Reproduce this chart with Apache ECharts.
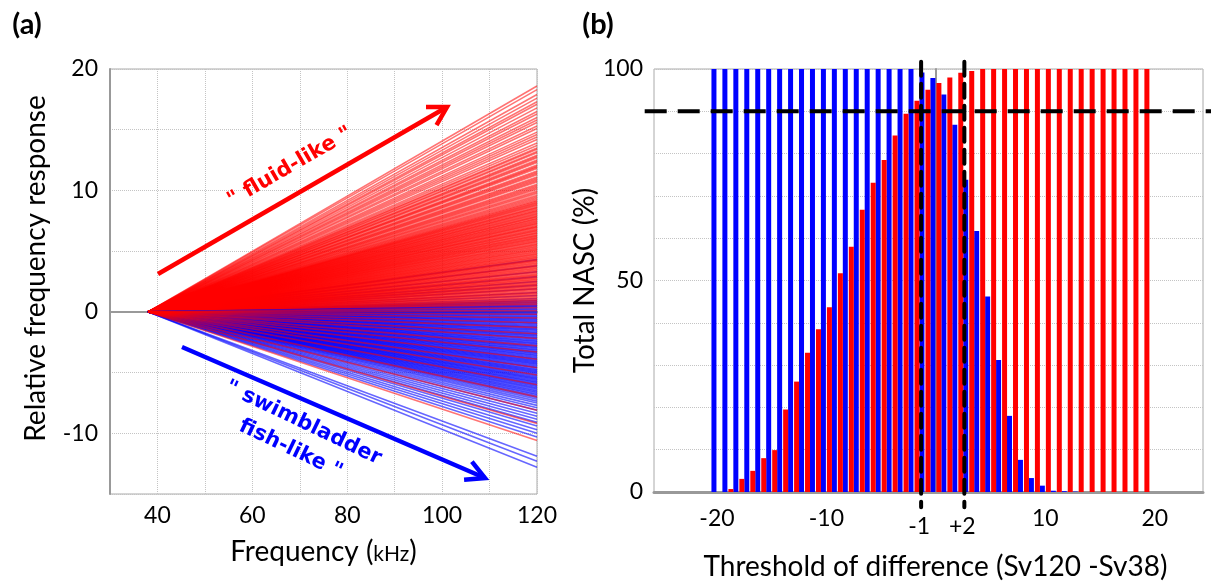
<!DOCTYPE html>
<html>
<head>
<meta charset="utf-8">
<script src="https://cdn.jsdelivr.net/npm/echarts@6/dist/echarts.min.js"></script>
<style>
html,body{margin:0;padding:0;background:#fff;}
#c{width:1211px;height:581px;}
</style>
</head>
<body>
<div id="c"></div>
<script>
// ---------- Panel (a): relative frequency response lines ----------
const FREQ_START = 38;   // kHz, common origin of every line
const FREQ_END = 120;    // kHz
// value at 120 kHz of each "fluid-like" (red) line
const fluidEnd = [18.6, 18.3, 17.9, 17.6, 17.3, 17.1, 16.8, 16.5, 16.3, 16.0, 15.8, 15.6, 15.3, 15.1, 14.8, 14.6,
  14.4, 14.2, 13.9, 13.7, 13.5, 13.4, 13.2, 13.1, 12.9, 12.8, 12.7, 12.5, 12.4, 12.3, 12.1, 12.0, 11.9, 11.8,
  11.6, 11.5, 11.4, 11.3, 11.1, 11.0, 10.9, 10.8, 10.7, 10.5, 10.4, 10.3, 10.2, 10.1, 9.95, 9.85, 9.75, 9.6,
  9.5, 9.4, 9.3, 9.18, 9.1, 9.01, 8.95, 8.86, 8.8, 8.71, 8.62, 8.57, 8.49, 8.4, 8.33, 8.27, 8.18, 8.1, 8.04,
  7.96, 7.88, 7.83, 7.74, 7.66, 7.6, 7.53, 7.45, 7.38, 7.3, 7.25, 7.17, 7.08, 7.02, 6.96, 6.88, 6.81, 6.73,
  6.68, 6.6, 6.52, 6.47, 6.39, 6.31, 6.26, 6.18, 6.1, 6.05, 5.97, 5.9, 5.82, 5.77, 5.69, 5.61, 5.55, 5.48,
  5.4, 5.34, 5.26, 5.19, 5.12, 5.05, 4.97, 4.91, 4.83, 4.76, 4.7, 4.62, 4.55, 4.47, 4.41, 4.33, 4.26, 4.2,
  4.12, 4.04, 3.98, 3.9, 3.83, 3.76, 3.69, 3.61, 3.55, 3.47, 3.4, 3.32, 3.26, 3.18, 3.1, 3.03, 2.96, 2.88,
  2.81, 2.74, 2.66, 2.59, 2.52, 2.44, 2.37, 2.3, 2.22, 2.14, 2.07, 1.99, 1.91, 1.84, 1.76, 1.68, 1.6, 1.52,
  1.44, 1.35, 1.27, 1.18, 1.09, 1.0, 0.91, 0.81, 0.7, 0.6, 0.48, 0.35, 0.1, -0.2, -0.5, -0.9, -1.3, -1.8,
  -2.2, -2.8, -3.3, -3.9, -4.6, -5.2, -6.0, -7.0, -8.1, -9.2, -10.6];
// value at 120 kHz of each "swimbladder fish-like" (blue) line
const swimEnd = [4.3, 3.8, 3.3, 2.9, 2.5, 2.2, 1.9, 1.6, 1.35, 1.1, 0.96, 0.88, 0.79, 0.72, 0.63, 0.55, 0.47,
  0.4, 0.31, 0.23, 0.16, 0.07, -0.01, -0.09, -0.17, -0.24, -0.33, -0.4, -0.48, -0.57, -0.64, -0.72, -0.8,
  -0.89, -0.96, -1.04, -1.12, -1.2, -1.27, -1.36, -1.44, -1.51, -1.6, -1.68, -1.75, -1.84, -1.92, -1.99,
  -2.08, -2.15, -2.23, -2.32, -2.4, -2.47, -2.56, -2.63, -2.71, -2.8, -2.88, -2.95, -3.04, -3.12, -3.19,
  -3.28, -3.36, -3.43, -3.52, -3.6, -3.67, -3.76, -3.84, -3.91, -4.0, -4.08, -4.16, -4.24, -4.32, -4.4,
  -4.48, -4.56, -4.63, -4.72, -4.8, -4.88, -4.96, -5.04, -5.12, -5.2, -5.28, -5.36, -5.44, -5.52, -5.6,
  -5.69, -5.77, -5.85, -5.94, -6.02, -6.1, -6.2, -6.29, -6.38, -6.47, -6.57, -6.66, -6.76, -6.86, -6.97,
  -7.08, -7.2, -7.35, -7.5, -7.7, -7.9, -8.1, -8.35, -8.6, -8.85, -9.1, -9.4, -9.7, -10.0, -10.3, -11.9,
  -12.3, -12.8];
const freqTickLabels = [40, 60, 80, 100, 120];
const respTickLabels = [-10, 0, 10, 20];

// ---------- Panel (b): total NASC vs threshold ----------
const thresholds = [-20, -19, -18, -17, -16, -15, -14, -13, -12, -11, -10, -9, -8, -7, -6, -5, -4, -3, -2, -1,
  0, 1, 2, 3, 4, 5, 6, 7, 8, 9, 10, 11, 12, 13, 14, 15, 16, 17, 18, 19];
const swimNasc = [100, 100, 100, 100, 100, 100, 100, 100, 100, 100, 100, 100, 100, 100, 100, 100, 100, 100, 100,
  99.2, 97.9, 94.0, 86.8, 73.8, 61.7, 46.2, 31.2, 18.0, 7.6, 3.3, 1.5, 0.3, 0.2, 0.1, 0, 0, 0, 0, 0, 0];
const fluidNasc = [0, 0.7, 3.1, 5.0, 8.0, 9.9, 19.5, 26.1, 32.9, 38.5, 43.7, 51.7, 58.0, 66.7, 73.1, 78.5, 84.3,
  89.4, 92.5, 95.1, 96.7, 98.0, 99.1, 99.5, 100, 100, 100, 100, 100, 100, 100, 100, 100, 100, 100, 100, 100,
  100, 100, 100];
const nascTickLabels = [0, 50, 100];
const diffTickLabels = [-20, -10, 10, 20];
const nascCutoff = 90;
const markerLabels = ['-1', '+2'];
const markerAt = [-1.35, 2.6];

const FONT = 'Lato, "Open Sans", sans-serif';
const ANNOT_FONT = '"DejaVu Sans", Verdana, sans-serif';
const RED = '#ff0000', BLUE = '#0000ff';
const RED_LINE = 'rgba(255,0,0,0.55)', BLUE_LINE = 'rgba(0,0,255,0.6)';

const chart = echarts.init(document.getElementById('c'), null, {renderer: 'canvas'});

function lineSeries(v, color) {
  return {
    type: 'line', xAxisIndex: 0, yAxisIndex: 0,
    data: [[FREQ_START, 0], [FREQ_END, v]],
    symbol: 'none', silent: true, animation: false,
    lineStyle: {color: color, width: 1.6}, z: 2
  };
}
const series = [];
// drawing order mixes the two groups where they overlap
swimEnd.filter(v => v > 0.5).forEach(v => series.push(lineSeries(v, BLUE_LINE)));
fluidEnd.filter(v => v >= 0.4).forEach(v => series.push(lineSeries(v, RED_LINE)));
swimEnd.filter(v => v <= 0.5).forEach(v => series.push(lineSeries(v, BLUE_LINE)));
fluidEnd.filter(v => v < 0.4).forEach(v => series.push(lineSeries(v, RED_LINE)));

series.push({
  type: 'bar', xAxisIndex: 1, yAxisIndex: 1, name: 'swimbladder',
  data: thresholds.map((t, i) => [t, swimNasc[i]]),
  barWidth: 5, barGap: '20%', itemStyle: {color: BLUE}, animation: false, z: 2
});
series.push({
  type: 'bar', xAxisIndex: 1, yAxisIndex: 1, name: 'fluid',
  data: thresholds.map((t, i) => [t, fluidNasc[i]]),
  barWidth: 5, barGap: '20%', itemStyle: {color: RED}, animation: false, z: 2
});

const gridLine = {show: true, lineStyle: {color: '#c4c4c4', type: 'dotted', width: 1}};
const axisLine = {show: true, lineStyle: {color: '#999', width: 2}};
const tickFont = {color: '#000', fontSize: 23, fontFamily: FONT};

chart.setOption({
  backgroundColor: '#fff',
  animation: false,
  grid: [
    {left: 110, top: 69, width: 427, height: 425, show: true, borderColor: '#aaa', borderWidth: 1,
      containLabel: false, outerBoundsMode: 'none'},
    {left: 654, top: 69, width: 549, height: 423, show: true, borderColor: '#aaa', borderWidth: 1,
      containLabel: false, outerBoundsMode: 'none'}
  ],
  xAxis: [
    {
      type: 'value', gridIndex: 0, min: 30, max: 120, interval: 10,
      axisLine: axisLine, axisTick: {show: false}, splitLine: gridLine,
      axisLabel: Object.assign({margin: 10, formatter: v => freqTickLabels.indexOf(v) >= 0 ? String(v) : ''}, tickFont),
      name: 'Frequency ({k|kHz})', nameLocation: 'middle', nameGap: 44,
      nameTextStyle: {color: '#000', fontSize: 28, fontFamily: FONT,
        rich: {k: {fontSize: 21, fontFamily: FONT, color: '#000', padding: [5, 0, 0, 0]}}}
    },
    {
      type: 'value', gridIndex: 1, min: -25.75, max: 24.4,
      axisLine: {show: true, lineStyle: {color: '#999', width: 3}}, axisTick: {show: false}, splitLine: {show: false},
      axisLabel: Object.assign({margin: 15, customValues: diffTickLabels, formatter: v => String(v)}, tickFont),
      name: 'Threshold of difference (Sv120 -Sv38)', nameLocation: 'middle', nameGap: 61,
      nameTextStyle: {color: '#000', fontSize: 28, fontFamily: FONT, padding: [0, 0, 0, 14]}
    }
  ],
  yAxis: [
    {
      type: 'value', gridIndex: 0, min: -15, max: 20, interval: 5,
      axisLine: axisLine, axisTick: {show: false}, splitLine: gridLine,
      axisLabel: Object.assign({margin: 12, formatter: v => respTickLabels.indexOf(v) >= 0 ? String(v) : ''}, tickFont),
      name: 'Relative frequency response', nameLocation: 'middle', nameGap: 60, nameRotate: 90,
      nameTextStyle: {color: '#000', fontSize: 28, fontFamily: FONT, padding: [0, 0, 0, 26]}
    },
    {
      type: 'value', gridIndex: 1, min: 0, max: 100, interval: 10,
      axisLine: axisLine, axisTick: {show: false}, splitLine: gridLine,
      axisLabel: Object.assign({margin: 11, formatter: v => nascTickLabels.indexOf(v) >= 0 ? String(v) : ''}, tickFont),
      name: 'Total NASC (%)', nameLocation: 'middle', nameGap: 35, nameRotate: 90,
      nameTextStyle: {color: '#000', fontSize: 28, fontFamily: FONT}
    }
  ],
  series: series
});

// ---------- annotations ----------
function chevron(tip, from, len, angDeg) {
  const back = Math.atan2(from[1] - tip[1], from[0] - tip[0]);
  const a = angDeg * Math.PI / 180;
  return [
    [tip[0] + len * Math.cos(back + a), tip[1] + len * Math.sin(back + a)],
    tip,
    [tip[0] + len * Math.cos(back - a), tip[1] + len * Math.sin(back - a)]
  ];
}
const graphics = [];
graphics.push({type: 'text', x: 27, y: 25, z: 100, style: {text: '(a)', fill: '#000', font: 'bold 29px ' + FONT, align: 'center', verticalAlign: 'middle'}});
graphics.push({type: 'text', x: 598, y: 25, z: 100, style: {text: '(b)', fill: '#000', font: 'bold 29px ' + FONT, align: 'center', verticalAlign: 'middle'}});
// fluid-like arrow
const rS = [158, 274], rT = [447, 107];
graphics.push({type: 'line', z: 100, shape: {x1: rS[0], y1: rS[1], x2: rT[0], y2: rT[1]}, style: {stroke: RED, lineWidth: 4.5}});
graphics.push({type: 'polyline', z: 100, shape: {points: chevron(rT, rS, 21, 30)}, style: {stroke: RED, lineWidth: 4.5, fill: null, lineJoin: 'miter'}});
graphics.push({type: 'text', z: 100, x: 290, y: 167, rotation: 30 * Math.PI / 180,
  style: {text: '" fluid-like "', fill: RED, font: 'bold 21px ' + ANNOT_FONT, align: 'center', verticalAlign: 'middle'}});
// swimbladder arrow
const bS = [182, 347], bT = [485, 478];
graphics.push({type: 'line', z: 100, shape: {x1: bS[0], y1: bS[1], x2: bT[0], y2: bT[1]}, style: {stroke: BLUE, lineWidth: 4.5}});
graphics.push({type: 'polyline', z: 100, shape: {points: chevron(bT, bS, 21, 28)}, style: {stroke: BLUE, lineWidth: 4.5, fill: null, lineJoin: 'miter'}});
graphics.push({type: 'text', z: 100, x: 297, y: 436, rotation: -25.5 * Math.PI / 180,
  style: {text: '" swimbladder\nfish-like "', fill: BLUE, font: 'bold 21px ' + ANNOT_FONT, lineHeight: 29, align: 'center', verticalAlign: 'middle'}});

// panel (b) threshold guides, positioned through the axes
const hA = chart.convertToPixel({gridIndex: 1}, [-26.6, nascCutoff]);
const hB = chart.convertToPixel({gridIndex: 1}, [25.2, nascCutoff]);
graphics.push({type: 'line', z: 100, shape: {x1: hA[0], y1: hA[1], x2: hB[0], y2: hB[1]},
  style: {stroke: '#000', lineWidth: 4, lineDash: [22, 11]}});
markerAt.forEach((xv, i) => {
  const top = chart.convertToPixel({gridIndex: 1}, [xv, 101.7]);
  const bot = chart.convertToPixel({gridIndex: 1}, [xv, -3.6]);
  graphics.push({type: 'line', z: 100, shape: {x1: top[0], y1: top[1], x2: bot[0], y2: bot[1]},
    style: {stroke: '#000', lineWidth: 4, lineDash: [14, 8], lineCap: 'round'}});
  graphics.push({type: 'text', z: 100, x: top[0] - 2, y: 527,
    style: {text: markerLabels[i], fill: '#000', font: '23px ' + FONT, align: 'center', verticalAlign: 'middle'}});
});
chart.setOption({graphic: graphics});
</script>
</body>
</html>
